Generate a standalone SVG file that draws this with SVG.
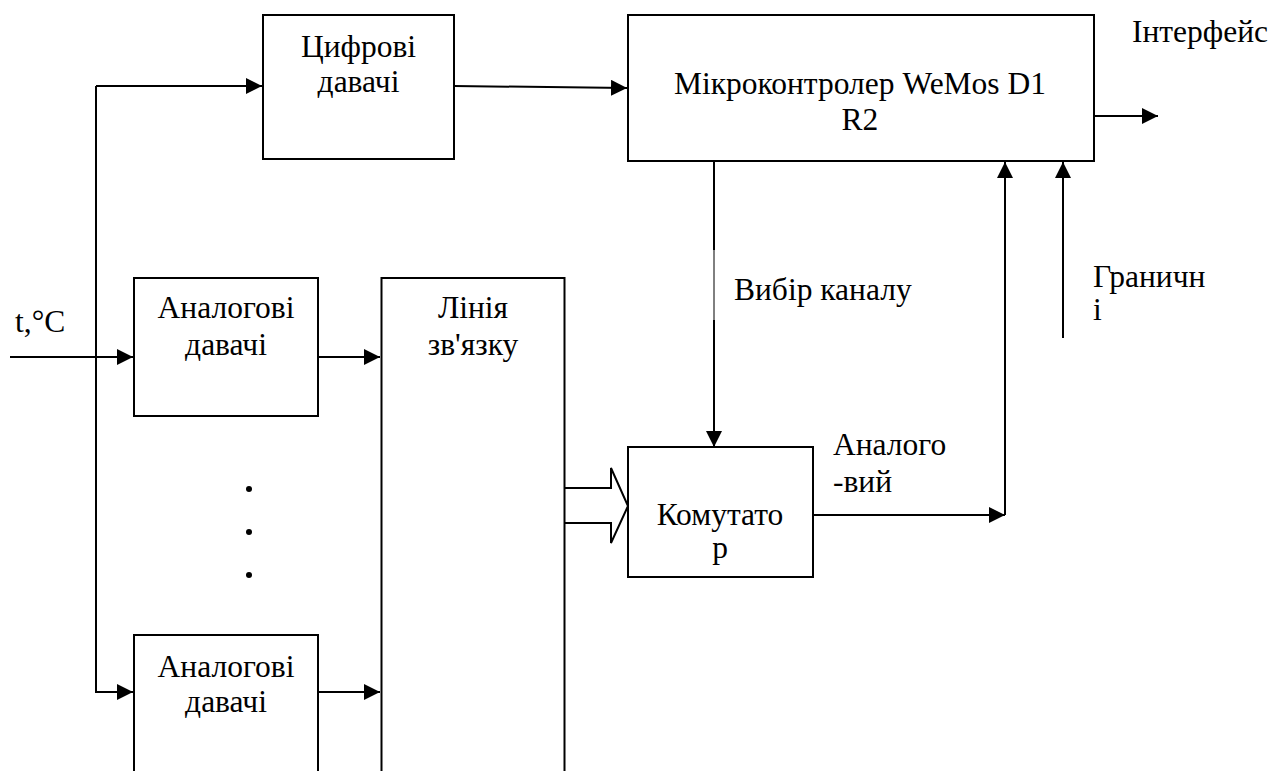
<svg xmlns="http://www.w3.org/2000/svg" width="1273" height="771" viewBox="0 0 1273 771">
<style>
.box{fill:#fff;stroke:#000;stroke-width:2}
.ln{fill:none;stroke:#000;stroke-width:2}
text{font-family:'Liberation Serif','Times New Roman','DejaVu Serif',serif;font-size:31.5px;fill:#000}
.c{text-anchor:middle}
</style>
<defs>
<marker id="ah" markerUnits="userSpaceOnUse" markerWidth="18" markerHeight="16" refX="16" refY="8" orient="auto">
<path d="M0,0 L16,8 L0,16 Z" fill="#000"/>
</marker>
</defs>
<rect width="1273" height="771" fill="#fff"/>
<g id="connectors">
<line class="ln" x1="10" y1="357" x2="133" y2="357" marker-end="url(#ah)"/>
<polyline class="ln" points="96,86 96,692 133,692" marker-end="url(#ah)"/>
<line class="ln" x1="96" y1="86" x2="262" y2="86" marker-end="url(#ah)"/>
<line class="ln" x1="318" y1="357" x2="380" y2="357" marker-end="url(#ah)"/>
<line class="ln" x1="318" y1="692" x2="380" y2="692" marker-end="url(#ah)"/>
<line class="ln" x1="454" y1="86" x2="627" y2="88" marker-end="url(#ah)"/>
<line class="ln" x1="1094" y1="116" x2="1158" y2="116" marker-end="url(#ah)"/>
<line class="ln" x1="714" y1="161" x2="714" y2="250"/>
<line x1="714" y1="250" x2="714" y2="320" stroke="#000" stroke-width="1"/>
<line class="ln" x1="714" y1="320" x2="714" y2="447" marker-end="url(#ah)"/>
<line class="ln" x1="813" y1="515" x2="1005" y2="515" marker-end="url(#ah)"/>
<line class="ln" x1="1005" y1="515" x2="1005" y2="162" marker-end="url(#ah)"/>
<line class="ln" x1="1063" y1="338" x2="1063" y2="162" marker-end="url(#ah)"/>
<path class="ln" d="M564,488 H611 V468 L628,506 L611,543 V523 H564" fill="#fff"/>
</g>
<g id="digital">
<rect class="box" x="263" y="15" width="191" height="144"/>
<text class="c" x="358.5" y="57">Цифрові</text>
<text class="c" x="358.5" y="92">давачі</text>
</g>
<g id="mcu">
<rect class="box" x="628" y="15" width="466" height="146"/>
<text class="c" x="860" y="94">Мікроконтролер WeMos D1</text>
<text class="c" x="860" y="130">R2</text>
</g>
<g id="analog1">
<rect class="box" x="134" y="278" width="184" height="138"/>
<text class="c" x="226" y="318">Аналогові</text>
<text class="c" x="226" y="355">давачі</text>
</g>
<g id="analog2">
<rect class="box" x="134" y="635" width="184" height="150"/>
<text class="c" x="226" y="677">Аналогові</text>
<text class="c" x="226" y="712">давачі</text>
</g>
<g id="dots">
<circle cx="249" cy="489" r="3"/>
<circle cx="249" cy="532" r="3"/>
<circle cx="249" cy="575" r="3"/>
</g>
<g id="link">
<rect class="box" x="381.5" y="278" width="183" height="510" fill="none"/>
<text class="c" x="473" y="318">Лінія</text>
<text class="c" x="473" y="355">зв'язку</text>
</g>
<g id="switch">
<rect class="box" x="628" y="447" width="185" height="130"/>
<text class="c" x="720" y="525">Комутато</text>
<text class="c" x="720" y="558">р</text>
</g>
<g id="labels">
<text x="15" y="332">t,°C</text>
<text x="1132" y="42">Інтерфейс</text>
<text x="734" y="300">Вибір каналу</text>
<text x="1093" y="287">Граничн</text>
<text x="1093" y="320">і</text>
<text x="833" y="455">Аналого</text>
<text x="833" y="492">-вий</text>
</g>
</svg>
